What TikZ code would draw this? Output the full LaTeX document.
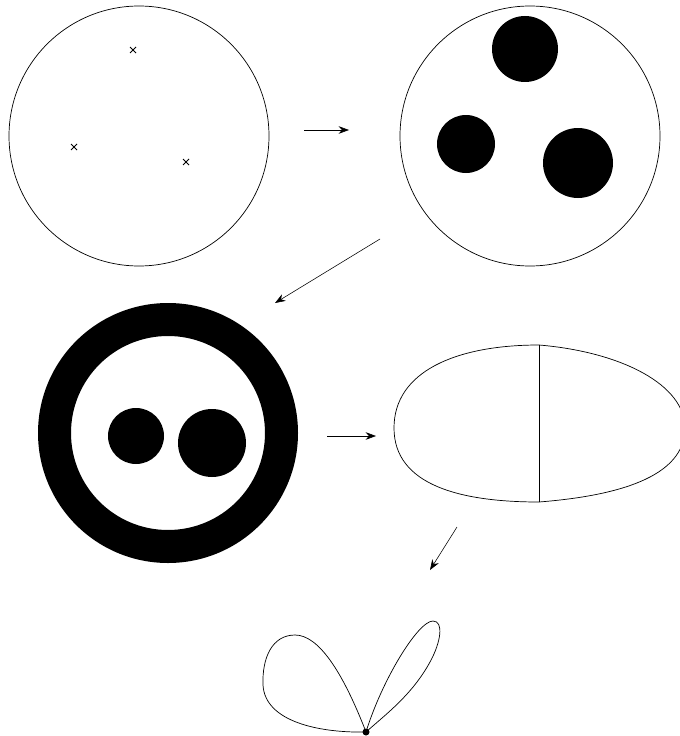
\documentclass[tikz,border=0pt]{standalone}
\usetikzlibrary{arrows.meta,calc}
\tikzset{
  arr/.style={-{Stealth[length=2.6mm,width=1.9mm]}},
  rim/.style={draw, line width=0.5pt},
  blob/.style={fill=black},
  crs/.style={line width=0.6pt}
}
\newcommand{\cross}[1]{\draw[crs] ($(#1)+(-3,-3)$) -- ($(#1)+(3,3)$) ($(#1)+(-3,3)$) -- ($(#1)+(3,-3)$);}

\begin{document}
\begin{tikzpicture}[x=0.025cm,y=0.025cm]
\useasboundingbox (0,0) rectangle (679,-736);
% first disc with three marked points
\coordinate (discA) at (139,-136);
\draw[rim] (discA) circle[radius=130];
\coordinate (ptA) at (133,-50);
\coordinate (ptB) at (74,-147);
\coordinate (ptC) at (186,-162);
\cross{ptA}
\cross{ptB}
\cross{ptC}
% second disc with three holes
\coordinate (discB) at (530,-136);
\draw[rim] (discB) circle[radius=130];
\coordinate (holeA) at (525,-49);
\coordinate (holeB) at (466,-144);
\coordinate (holeC) at (578,-163);
\fill[blob] (holeA) circle[radius=33];
\fill[blob] (holeB) circle[radius=29];
\fill[blob] (holeC) circle[radius=35];
% annulus with two holes
\coordinate (ring) at (168,-433);
\fill[blob, even odd rule] (ring) circle[radius=130] (ring) circle[radius=97];
\coordinate (holeD) at (136,-436);
\coordinate (holeE) at (212,-443);
\fill[blob] (holeD) circle[radius=28];
\fill[blob] (holeE) circle[radius=34];
% egg cut in two
\coordinate (eggT) at (539,-345);
\coordinate (eggB) at (539,-502);
\draw[rim] (eggT) .. controls (455,-345) and (394,-372) .. (394,-428)
  .. controls (394,-485) and (460,-502) .. (eggB)
  .. controls (615,-496) and (685,-478) .. (685,-428)
  .. controls (685,-385) and (622,-352) .. (eggT);
\draw[rim] (eggT) -- (eggB);
% two loops at a point
\coordinate (vtx) at (366,-732);
\draw[rim] (vtx) .. controls (342,-670) and (318,-635) .. (295,-635)
  .. controls (272,-635) and (262,-658) .. (263,-685)
  .. controls (265,-722) and (320,-733) .. (vtx);
\draw[rim] (vtx) .. controls (382,-680) and (418,-621) .. (433,-621)
  .. controls (444,-621) and (441,-642) .. (430,-662)
  .. controls (412,-695) and (385,-715) .. (vtx);
\fill[blob] (vtx) circle[radius=3.5];
% arrows
\coordinate (a1s) at (304,-130);
\coordinate (a1e) at (349,-130);
\coordinate (a2s) at (380,-239);
\coordinate (a2e) at (275,-303);
\coordinate (a3s) at (327,-436);
\coordinate (a3e) at (376,-436);
\coordinate (a4s) at (457,-527);
\coordinate (a4e) at (430,-570);
\draw[arr] (a1s) -- (a1e);
\draw[arr] (a2s) -- (a2e);
\draw[arr] (a3s) -- (a3e);
\draw[arr] (a4s) -- (a4e);
\end{tikzpicture}
\end{document}
